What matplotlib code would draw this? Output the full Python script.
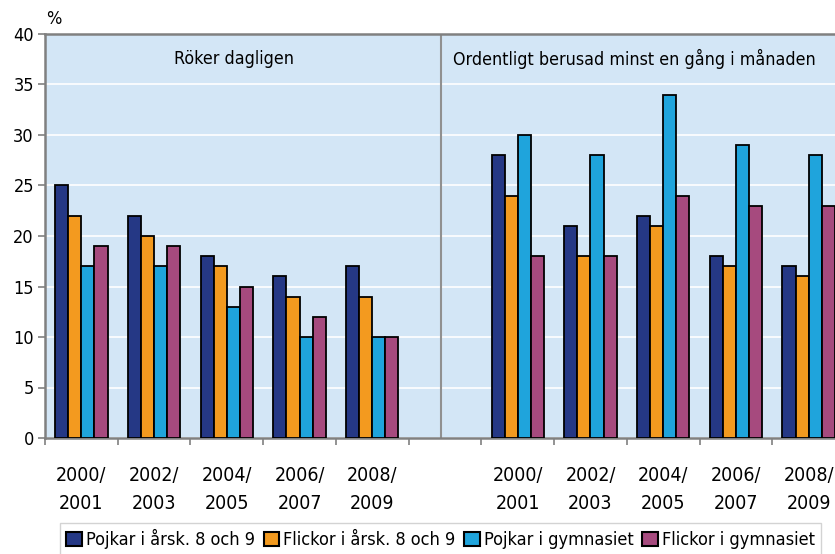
import matplotlib
matplotlib.use("Agg")
import matplotlib.pyplot as plt
import numpy as np
from matplotlib.patches import Patch

plt.rcParams['font.family'] = ['DejaVu Sans']
plt.rcParams['font.stretch'] = 'condensed'

periods = ["2000/\n2001", "2002/\n2003", "2004/\n2005", "2006/\n2007", "2008/\n2009"]
series_names = ["Pojkar i årsk. 8 och 9", "Flickor i årsk. 8 och 9",
                "Pojkar i gymnasiet", "Flickor i gymnasiet"]
colors = ["#253885", "#f39a1f", "#1fa4dc", "#a64a7e"]

# Röker dagligen
smoke = [
    [25, 22, 18, 16, 17],
    [22, 20, 17, 14, 14],
    [17, 17, 13, 10, 10],
    [19, 19, 15, 12, 10],
]
# Ordentligt berusad minst en gång i månaden
drunk = [
    [28, 21, 22, 18, 17],
    [24, 18, 21, 17, 16],
    [30, 28, 34, 29, 28],
    [18, 18, 24, 23, 23],
]
panel_titles = ["Röker dagligen", "Ordentligt berusad minst en gång i månaden"]

W, H = 835, 554
fig = plt.figure(figsize=(W / 100, H / 100), dpi=100)
ax = fig.add_axes([45 / W, 1 - 438 / H, 800 / W, 404 / H])
ax.set_facecolor("#d3e6f6")

labels = periods + [""] + periods
n_cat = len(labels)
left_x = np.arange(5)
right_x = np.arange(6, 11)
bw = 0.18
offsets = (np.arange(4) - 1.5) * bw
for i in range(4):
    ax.bar(left_x + offsets[i], smoke[i], width=bw, color=colors[i],
           edgecolor="black", linewidth=1.3, zorder=3)
    ax.bar(right_x + offsets[i], drunk[i], width=bw, color=colors[i],
           edgecolor="black", linewidth=1.3, zorder=3)

ax.set_xlim(-0.5, n_cat - 0.5)
ax.set_ylim(0, 40)
ax.set_yticks(np.arange(0, 41, 5))
ax.yaxis.grid(True, color="white", linewidth=1.2, zorder=1)
ax.set_axisbelow(True)

ax.set_xticks(np.arange(n_cat + 1) - 0.5)
ax.set_xticklabels([])
ax.set_xticks(np.arange(n_cat), minor=True)
ax.set_xticklabels(labels, minor=True, fontsize=14, linespacing=1.6)
ax.tick_params(axis="x", which="minor", length=0, pad=20)
ax.tick_params(axis="x", which="major", length=5, color="#808080", width=1.2)
ax.tick_params(axis="y", length=5, color="#808080", width=1.2, labelsize=13, pad=3)

for s in ["left", "bottom", "top"]:
    ax.spines[s].set_color("#808080")
    ax.spines[s].set_linewidth(1.8)
ax.spines["right"].set_visible(False)

ax.axvline(4.95, color="#909090", linewidth=1.5, zorder=2)

ax.text(2.1, 37.5, panel_titles[0], ha="center", va="center", fontsize=12.8)
ax.text(7.61, 37.5, panel_titles[1], ha="center", va="center", fontsize=12.8)

fig.text(46 / W, 1 - 28 / H, "%", ha="left", va="bottom", fontsize=13)

handles = [Patch(facecolor=c, edgecolor="black", linewidth=1.5) for c in colors]
leg = fig.legend(handles, series_names, loc="upper left",
                 bbox_to_anchor=(60 / W, 1 - 523 / H), ncol=4, fontsize=13,
                 frameon=True, fancybox=False, edgecolor="#c8c8c8",
                 handlelength=0.85, handleheight=0.85, handletextpad=0.22,
                 columnspacing=0.5, borderpad=0.35, borderaxespad=0)
leg.get_frame().set_linewidth(1.0)

fig.savefig("out.png", dpi=100)
